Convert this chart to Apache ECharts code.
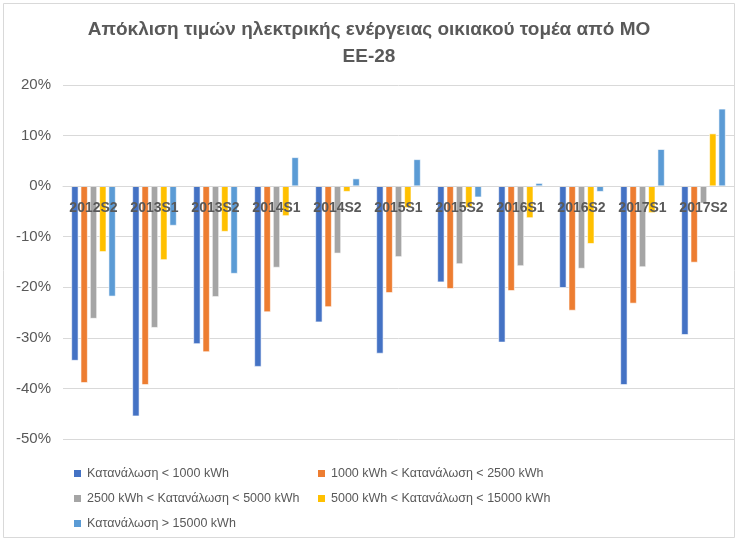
<!DOCTYPE html>
<html>
<head>
<meta charset="utf-8">
<script src="https://cdn.jsdelivr.net/npm/echarts@6/dist/echarts.min.js"></script>
<style>
html,body{margin:0;padding:0;background:#fff;}
#main{width:738px;height:541px;}
</style>
</head>
<body>
<div id="main"></div>
<script>
var categories = ['2012S2','2013S1','2013S2','2014S1','2014S2','2015S1','2015S2','2016S1','2016S2','2017S1','2017S2'];
var seriesNames = [
	'Κατανάλωση < 1000 kWh',
	'1000 kWh < Κατανάλωση < 2500 kWh',
	'2500 kWh < Κατανάλωση < 5000 kWh',
	'5000 kWh < Κατανάλωση < 15000 kWh',
	'Κατανάλωση > 15000 kWh'
];
var s1 = [-34.5,-45.5,-31.2,-35.7,-26.9,-33.1,-19.0,-30.9,-20.1,-39.3,-29.4];
var s2 = [-38.9,-39.3,-32.8,-24.9,-23.9,-21.1,-20.3,-20.7,-24.6,-23.2,-15.1];
var s3 = [-26.2,-28.0,-21.9,-16.1,-13.3,-14.0,-15.4,-15.8,-16.3,-16.0,-3.4];
var s4 = [-13.0,-14.6,-9.0,-5.9,-1.1,-4.3,-4.3,-6.3,-11.4,-5.3,10.4];
var s5 = [-21.8,-7.8,-17.3,5.7,1.5,5.3,-2.2,0.6,-1.1,7.3,15.3];
var colors = ['#4472c4','#ed7d31','#a5a5a5','#ffc000','#5b9bd5'];

var myChart = echarts.init(document.getElementById('main'));
var txt = '#595959';
var font = '"Liberation Sans", Arial, sans-serif';

function bar(i, data){
	return {
		name: seriesNames[i],
		type: 'bar',
		data: data,
		barWidth: 7,
		barGap: '33%',
		z: 2,
		itemStyle: {color: colors[i], borderColor: '#fff', borderWidth: 0.6}
	};
}

// the category axis sits on the 0% line, like the Excel original
var gridTop = 85, gridBottom = 102, yMin = -50, yMax = 20;
var plotH = 541 - gridTop - gridBottom;
var zeroOffset = -plotH * (0 - yMin) / (yMax - yMin);

var option = {
	animation: false,
	textStyle: {fontFamily: font},
	title: {
		text: 'Απόκλιση τιμών ηλεκτρικής ενέργειας οικιακού τομέα από ΜΟ\nΕΕ-28',
		left: 'center',
		top: 11,
		textStyle: {color: txt, fontSize: 19, fontWeight: 'bold', lineHeight: 27, fontFamily: font}
	},
	color: colors,
	legend: [{
		orient: 'vertical',
		left: 67,
		top: 462,
		itemWidth: 9,
		itemHeight: 9,
		itemGap: 12,
		icon: 'rect',
		data: [seriesNames[0], seriesNames[2], seriesNames[4]],
		textStyle: {color: txt, fontSize: 12.5, fontFamily: font}
	}, {
		orient: 'vertical',
		left: 311,
		top: 462,
		itemWidth: 9,
		itemHeight: 9,
		itemGap: 12,
		icon: 'rect',
		data: [seriesNames[1], seriesNames[3]],
		textStyle: {color: txt, fontSize: 12.5, fontFamily: font}
	}],
	grid: {left: 63, right: 4, top: gridTop, bottom: gridBottom},
	xAxis: {
		type: 'category',
		data: categories,
		offset: zeroOffset,
		z: 10,
		axisLine: {onZero: false, lineStyle: {color: '#d9d9d9'}},
		axisTick: {show: false},
		axisLabel: {color: txt, fontSize: 14, fontWeight: 'bold', margin: 15, interval: 0, fontFamily: font}
	},
	yAxis: {
		type: 'value',
		min: yMin,
		max: yMax,
		interval: 10,
		axisLine: {show: false},
		axisTick: {show: false},
		splitLine: {lineStyle: {color: '#d9d9d9'}},
		axisLabel: {color: txt, fontSize: 15, margin: 12, formatter: '{value}%', fontFamily: font}
	},
	graphic: [{
		type: 'rect',
		shape: {x: 3.5, y: 3.5, width: 731, height: 534},
		style: {fill: 'none', stroke: '#d9d9d9', lineWidth: 1},
		silent: true
	}],
	series: [bar(0, s1), bar(1, s2), bar(2, s3), bar(3, s4), bar(4, s5)]
};
myChart.setOption(option);
</script>
</body>
</html>
